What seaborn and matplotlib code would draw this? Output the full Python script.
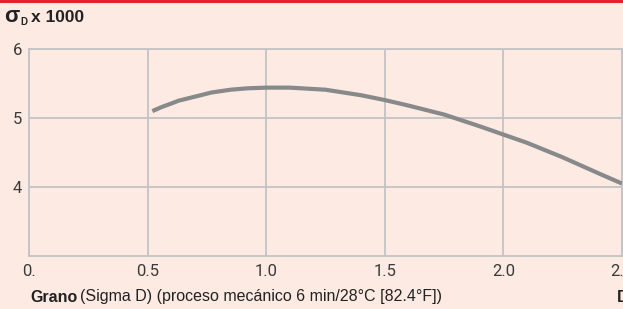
import matplotlib

matplotlib.use("Agg")
import matplotlib.pyplot as plt
import pandas as pd
import seaborn as sns

# values
grain_size = [0.52, 0.56, 0.6, 0.63, 0.7, 0.77, 0.85, 0.92, 1.0, 1.1, 1.25, 1.4, 1.5,
              1.6, 1.75, 1.9, 2.0, 2.1, 2.25, 2.4, 2.5]
sigma_d = [5.10, 5.16, 5.21, 5.25, 5.31, 5.37, 5.41, 5.43, 5.44, 5.44, 5.41, 5.33, 5.26,
           5.18, 5.05, 4.88, 4.76, 4.64, 4.43, 4.20, 4.05]

x_ticks = [0.0, 0.5, 1.0, 1.5, 2.0, 2.5]
x_tick_labels = ["0.", "0.5", "1.0", "1.5", "2.0", "2.5"]
y_ticks = [4, 5, 6]
y_tick_labels = ["4", "5", "6"]

BG = "#fdebe3"
GRID = "#c3c3c3"
LINE = "#87898a"
TEXT = "#222222"
LABEL = ["Liberation Sans", "DejaVu Sans"]

sns.set_theme(style="white")
plt.rcParams["font.family"] = ["Roboto", "DejaVu Sans"]

fig = plt.figure(figsize=(6.23, 3.09), dpi=100, facecolor=BG)
W, H = 623, 309
ax = fig.add_axes([29 / W, 53 / H, 593 / W, 207 / H])
ax.set_facecolor(BG)

df = pd.DataFrame({"size": grain_size, "sigma": sigma_d})
sns.lineplot(data=df, x="size", y="sigma", color=LINE, linewidth=3.0, ax=ax,
             solid_capstyle="butt", zorder=3)

ax.set_xlim(0, 2.5)
ax.set_ylim(3, 6)
ax.set_xticks(x_ticks)
ax.set_xticklabels(x_tick_labels)
ax.set_yticks(y_ticks)
ax.set_yticklabels(y_tick_labels)
ax.set_xlabel("")
ax.set_ylabel("")
ax.grid(True, color=GRID, linewidth=1.3)
for spine in ax.spines.values():
    spine.set_visible(True)
    spine.set_color(GRID)
    spine.set_linewidth(1.3)
ax.tick_params(axis="both", length=0, labelsize=12, labelcolor="#3a3a3a")
ax.tick_params(axis="x", pad=6)
ax.tick_params(axis="y", pad=5)

# red rule along the top edge
fig.add_artist(plt.Line2D([0, 1], [1 - 1 / H, 1 - 1 / H], color="#e8202a",
                          linewidth=2.2, transform=fig.transFigure))

fig.canvas.draw()
renderer = fig.canvas.get_renderer()


def put_after(prev, gap, text, y, **kw):
    x0 = prev.get_window_extent(renderer).x1 + gap
    return fig.text(x0 / W, y, text, **kw)


# header: sigma with subscript D
y_head = 1 - 18 / H
s = fig.text(4 / W, 1 - 17 / H, "σ", family=LABEL, fontweight="bold", fontsize=16,
             color=TEXT, va="center", ha="left")
d = put_after(s, 1, "D", 1 - 22 / H, family=LABEL, fontweight="bold", fontsize=7,
              color=TEXT, va="center", ha="left")
put_after(d, 4, "x 1000", y_head, family=LABEL, fontweight="bold", fontsize=12.5,
          color=TEXT, va="center", ha="left")

# footer caption: bold word then regular text
y_cap = 1 - 297 / H
g = fig.text(30 / W, y_cap, "Grano", family=LABEL, fontweight="bold",
             fontsize=11.5, color=TEXT, va="center", ha="left")
put_after(g, 3, "(Sigma D) (proceso mecánico 6 min/28°C [82.4°F])", y_cap,
          family=LABEL, fontsize=11.5, color=TEXT, va="center", ha="left")
fig.text(617 / W, y_cap, "D", family=LABEL, fontweight="bold",
         fontsize=11.5, color=TEXT, va="center", ha="left")

fig.savefig("out.png", dpi=100, facecolor=BG)
plt.close(fig)
